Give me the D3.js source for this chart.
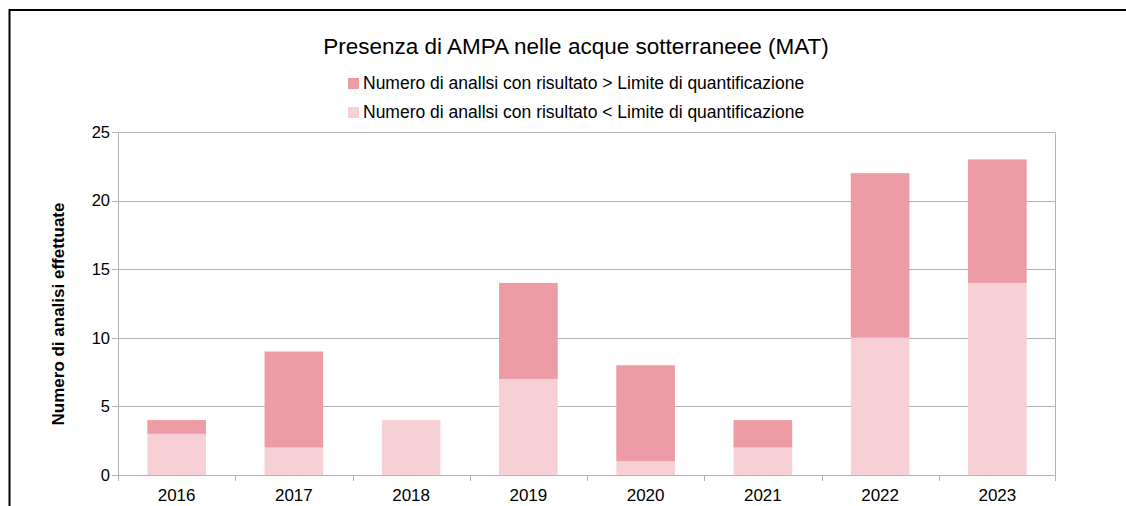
<!DOCTYPE html>
<html>
<head>
<meta charset="utf-8">
<script src="https://cdn.jsdelivr.net/npm/d3@7"></script>
<style>
  body { margin: 0; background: #fff; }
  svg { font-family: "Liberation Sans", Arial, sans-serif; }
</style>
</head>
<body>
<div id="chart"></div>
<script>
// Data
var years = ["2016", "2017", "2018", "2019", "2020", "2021", "2022", "2023"];
var belowLoq = [3, 2, 4, 7, 1, 2, 10, 14];   // risultato < Limite di quantificazione
var aboveLoq = [1, 7, 0, 7, 7, 2, 12, 9];    // risultato > Limite di quantificazione
var yTicks = [0, 5, 10, 15, 20, 25];

var seriesNames = [
  "Numero di anallsi con risultato > Limite di quantificazione",
  "Numero di anallsi con risultato < Limite di quantificazione"
];
var colors = {above: "#ed9ba4", below: "#f7d0d5"};

var W = 1126, H = 506;
var margin = {top: 132, right: 70, bottom: 31, left: 118};
var width = W - margin.left - margin.right,
    height = H - margin.top - margin.bottom;

var svg = d3.select("#chart").append("svg")
  .attr("width", W)
  .attr("height", H);

// outer frame (only top and left show in the picture)
svg.append("rect")
  .attr("x", 9.5).attr("y", 10)
  .attr("width", W + 20).attr("height", H + 20)
  .attr("fill", "none")
  .attr("stroke", "#000")
  .attr("stroke-width", 2);

var table = years.map(function(y, i) {
  return {year: y, below: belowLoq[i], above: aboveLoq[i]};
});
var stack = d3.stack().keys(["below", "above"])(table);

var x = d3.scaleBand().domain(years).range([0, width]).paddingInner(0.5).paddingOuter(0.25);
var xBound = d3.scaleLinear().domain([0, years.length]).range([0, width]);
var y = d3.scaleLinear().domain([0, 25]).range([height, 0]);

var g = svg.append("g")
  .attr("transform", "translate(" + margin.left + "," + margin.top + ")");

// gridlines
g.selectAll(".grid").data(yTicks).enter().append("line")
  .attr("x1", -6).attr("x2", width)
  .attr("y1", function(d) { return Math.round(y(d)) + 0.5; })
  .attr("y2", function(d) { return Math.round(y(d)) + 0.5; })
  .attr("stroke", "#b3b3b3");

g.append("line")
  .attr("x1", 0.5).attr("x2", 0.5).attr("y1", 0).attr("y2", height + 6)
  .attr("stroke", "#b3b3b3");
g.append("line")
  .attr("x1", width - 0.5).attr("x2", width - 0.5).attr("y1", 0).attr("y2", height + 6)
  .attr("stroke", "#b3b3b3");

// category boundary ticks
g.selectAll(".xtick").data(d3.range(1, years.length)).enter().append("line")
  .attr("x1", function(d) { return Math.round(xBound(d)) + 0.5; })
  .attr("x2", function(d) { return Math.round(xBound(d)) + 0.5; })
  .attr("y1", height).attr("y2", height + 6)
  .attr("stroke", "#b3b3b3");

// bars
g.selectAll(".layer").data(stack).enter().append("g")
  .attr("fill", function(d) { return colors[d.key]; })
  .selectAll("rect").data(function(d) { return d; }).enter().append("rect")
  .attr("x", function(d) { return x(d.data.year); })
  .attr("width", x.bandwidth())
  .attr("y", function(d) { return y(d[1]); })
  .attr("height", function(d) { return y(d[0]) - y(d[1]); });

// y tick labels
g.selectAll(".ylab").data(yTicks).enter().append("text")
  .attr("x", -8)
  .attr("y", function(d) { return y(d); })
  .attr("dy", "0.35em")
  .attr("text-anchor", "end")
  .attr("font-size", 16.5)
  .text(function(d) { return d; });

// x tick labels
g.selectAll(".xlab").data(years).enter().append("text")
  .attr("x", function(d) { return x(d) + x.bandwidth() / 2; })
  .attr("y", height + 26)
  .attr("text-anchor", "middle")
  .attr("font-size", 17)
  .text(function(d) { return d; });

// y axis title
svg.append("text")
  .attr("transform", "translate(64," + 314 + ") rotate(-90)")
  .attr("text-anchor", "middle")
  .attr("font-size", 17)
  .attr("font-weight", "bold")
  .text("Numero di analisi effettuate");

// title
svg.append("text")
  .attr("x", 576).attr("y", 54)
  .attr("text-anchor", "middle")
  .attr("font-size", 22.5)
  .text("Presenza di AMPA nelle acque sotterraneee (MAT)");

// legend
var legend = svg.selectAll(".legend").data(seriesNames).enter().append("g")
  .attr("transform", function(d, i) { return "translate(348," + (78 + i * 29) + ")"; });
legend.append("rect")
  .attr("width", 11).attr("height", 11)
  .attr("fill", function(d, i) { return i === 0 ? colors.above : colors.below; });
legend.append("text")
  .attr("x", 15).attr("y", 11)
  .attr("font-size", 17.5)
  .text(function(d) { return d; });
</script>
</body>
</html>
